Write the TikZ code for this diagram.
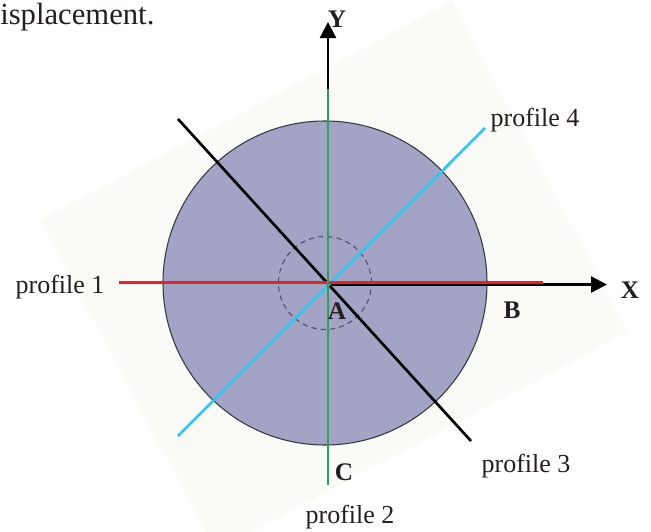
\documentclass[tikz,border=0pt]{standalone}
\usepackage{fontspec}
\setmainfont{Liberation Serif}
\usetikzlibrary{arrows.meta}
\definecolor{bgpale}{RGB}{250,250,246}
\definecolor{disk}{RGB}{163,163,197}
\definecolor{rimgray}{RGB}{55,55,65}
\definecolor{pred}{RGB}{232,32,42}
\definecolor{pgreen}{RGB}{46,158,94}
\definecolor{pcyan}{RGB}{51,196,240}
\definecolor{dashgray}{RGB}{80,80,100}
\definecolor{ink}{RGB}{35,31,32}
\begin{document}
\begin{tikzpicture}[x=0.75pt,y=-0.75pt,
  lbl/.style={font=\fontsize{19.5}{22}\selectfont, inner sep=0pt, text=ink},
  ltr/.style={font=\fontsize{19}{22}\selectfont\bfseries, inner sep=0pt, text=ink},
  prof/.style={line width=2pt},
  axisline/.style={line width=1.8pt, black, -{Triangle[length=12pt,width=12pt]}}]
\useasboundingbox (0,0) rectangle (651,532);
% pale rotated sheet
\fill[bgpale] (40,220) -- (452,1) -- (628,332) -- (216,551) -- cycle;
% disk
\node[circle, draw=rimgray, fill=disk, line width=0.8pt, minimum size=243pt, inner sep=0pt] (disk) at (325,283) {};
\node[circle, draw=dashgray, dash pattern=on 4pt off 3pt, line width=0.8pt, minimum size=69.75pt, inner sep=0pt] (inner) at (325,283) {};
% coordinates
\coordinate (A0) at (328,283);
\coordinate (p3a) at (178,119);
\coordinate (p3b) at (471,441);
\coordinate (p4a) at (178,436);
\coordinate (p4b) at (485,128);
\coordinate (xo) at (328,284.5);
\coordinate (xt) at (607,284.5);
\coordinate (p1a) at (119,282.5);
\coordinate (p1b) at (543,282.5);
\coordinate (yt) at (328,22);
\coordinate (yg) at (328,89);
\coordinate (p2b) at (328,485);
% axes
\draw[axisline] (A0) -- (yt);
\draw[axisline] (xo) -- (xt);
% profiles
\draw[prof, black] (p3a) -- (p3b);
\draw[prof, pcyan] (p4a) -- (p4b);
\draw[prof, pred] (p1a) -- (p1b);
\draw[prof, pgreen] (yg) -- (p2b);
% labels
\node[lbl, anchor=west] (cap) at (0,17) {\fontsize{23}{26}\selectfont isplacement.};
\node[lbl] (l1) at (60,287) {profile 1};
\node[lbl] (l2) at (350,517) {profile 2};
\node[lbl] (l3) at (526,466) {profile 3};
\node[lbl] (l4) at (535,120) {profile 4};
\node[ltr] (Y) at (337,19) {Y};
\node[ltr] (X) at (630,290) {X};
\node[ltr] (A) at (337,311) {A};
\node[ltr] (B) at (512,310) {B};
\node[ltr] (C) at (344,472) {C};
\end{tikzpicture}
\end{document}
